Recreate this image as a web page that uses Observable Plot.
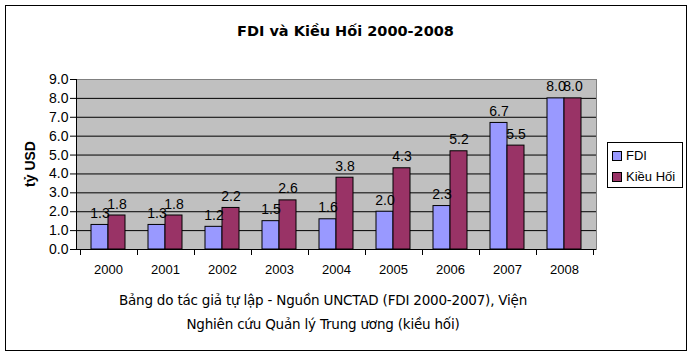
<!DOCTYPE html>
<html>
<head>
<meta charset="utf-8">
<script src="https://cdn.jsdelivr.net/npm/d3@7"></script>
<script src="https://cdn.jsdelivr.net/npm/@observablehq/plot@0.6"></script>
<style>
  body { margin: 0; background: #fff; }
  #chart { position: relative; width: 691px; height: 356px; background: #fff; font-family: "Liberation Sans", Arial, sans-serif; }
  #border { position: absolute; left: 5px; top: 5px; width: 682px; height: 346px; box-sizing: border-box; border: 1px solid #000; }
  #title { position: absolute; top: 21px; left: 0; width: 691px; text-align: center; font: bold 14.5px "DejaVu Sans", sans-serif; line-height: 20px; }
  #plot { position: absolute; left: 0; top: 0; }
  #ylabel { position: absolute; left: 30px; top: 164px; transform: translate(-50%, -50%) rotate(-90deg); font: bold 14px "Liberation Sans", Arial, sans-serif; white-space: nowrap; }
  #caption { position: absolute; top: 288px; left: 0; width: 646px; text-align: center; font: 13.5px "DejaVu Sans", sans-serif; line-height: 24px; letter-spacing: -0.2px; }
  #legend { position: absolute; left: 607px; top: 142px; width: 76px; height: 46px; box-sizing: border-box; border: 1px solid #000; background: #fff; font: 13px "Liberation Sans", Arial, sans-serif; padding: 2px 0 0 4px; }
  .item { display: flex; align-items: center; height: 21px; }
  .sw { width: 8px; height: 8px; border: 1px solid #000; margin-right: 4px; }
</style>
</head>
<body>
<div id="chart">
  <div id="border"></div>
  <div id="title">FDI và Kiều Hối 2000-2008</div>
  <div id="plot"></div>
  <div id="ylabel">tỷ USD</div>
  <div id="legend"></div>
  <div id="caption">Bảng do tác giả tự lập - Nguồn UNCTAD (FDI 2000-2007), Viện<br>Nghiên cứu Quản lý Trung ương (kiều hối)</div>
</div>
<script>
const years = ["2000", "2001", "2002", "2003", "2004", "2005", "2006", "2007", "2008"];
const fdi = [1.3, 1.3, 1.2, 1.5, 1.6, 2.0, 2.3, 6.7, 8.0];
const kieuHoi = [1.8, 1.8, 2.2, 2.6, 3.8, 4.3, 5.2, 5.5, 8.0];
const seriesNames = ["FDI", "Kiều Hối"];
const seriesColors = ["#9999FF", "#993366"];
const yTicks = [0, 1, 2, 3, 4, 5, 6, 7, 8, 9];
const gridTicks = [1, 2, 3, 4, 5, 6, 7, 8];

const fdiRows = years.map((year, i) => ({year, series: seriesNames[0], value: fdi[i]}));
const khRows = years.map((year, i) => ({year, series: seriesNames[1], value: kieuHoi[i]}));

const halfBar = 17;

function axisDecor(index, scales, values, dims) {
  const x = scales.x, y = scales.y;
  const bw = x.bandwidth(), step = x.step();
  const g = d3.create("svg:g").attr("stroke", "#000").attr("stroke-width", 1);
  const bottom = y(0), top = y(9);
  const bounds = years.map(yr => x(yr) + bw / 2 - step / 2);
  bounds.push(x(years[years.length - 1]) + bw / 2 + step / 2);
  for (const b of bounds) {
    const xx = Math.round(b) + 0.5;
    g.append("line").attr("x1", xx).attr("x2", xx).attr("y1", bottom).attr("y2", bottom + 6);
  }
  const lx = Math.round(dims.marginLeft) + 0.5;
  g.append("line").attr("x1", lx).attr("x2", lx).attr("y1", top).attr("y2", bottom);
  return g.node();
}

const chart = Plot.plot({
  width: 691,
  height: 290,
  marginTop: 79,
  marginBottom: 41,
  marginLeft: 76,
  marginRight: 95,
  style: {fontFamily: "'Liberation Sans', Arial, sans-serif", fontSize: "13px", background: "transparent", color: "#000"},
  x: {domain: years, type: "band", paddingInner: 0.41, paddingOuter: 0.205, label: null},
  y: {domain: [0, 9], label: null},
  marks: [
    Plot.frame({fill: "#C0C0C0", stroke: "#808080"}),
    Plot.ruleY(gridTicks, {stroke: "#000"}),
    Plot.barY(fdiRows, {x: "year", y: "value", fill: seriesColors[0], stroke: "#000", insetRight: halfBar}),
    Plot.barY(khRows, {x: "year", y: "value", fill: seriesColors[1], stroke: "#000", insetLeft: halfBar}),
    Plot.ruleY([0], {stroke: "#000"}),
    Plot.text(fdiRows, {x: "year", y: "value", text: d => d.value.toFixed(1), dx: -halfBar / 2, dy: -7, lineAnchor: "bottom", fill: "#000", fontSize: 14}),
    Plot.text(khRows, {x: "year", y: "value", text: d => d.value.toFixed(1), dx: halfBar / 2, dy: -7, lineAnchor: "bottom", fill: "#000", fontSize: 14}),
    Plot.axisY(yTicks, {tickFormat: d => d.toFixed(1), tickSize: 6, tickPadding: 2, label: null, fontSize: 14}),
    Plot.axisX({tickSize: 0, tickPadding: 15, label: null, fontSize: 13}),
    axisDecor
  ]
});
document.getElementById("plot").appendChild(chart);

const legend = document.getElementById("legend");
seriesNames.forEach((name, i) => {
  const item = document.createElement("div");
  item.className = "item";
  const sw = document.createElement("span");
  sw.className = "sw";
  sw.style.background = seriesColors[i];
  const t = document.createElement("span");
  t.textContent = name;
  item.appendChild(sw);
  item.appendChild(t);
  legend.appendChild(item);
});
</script>
</body>
</html>
